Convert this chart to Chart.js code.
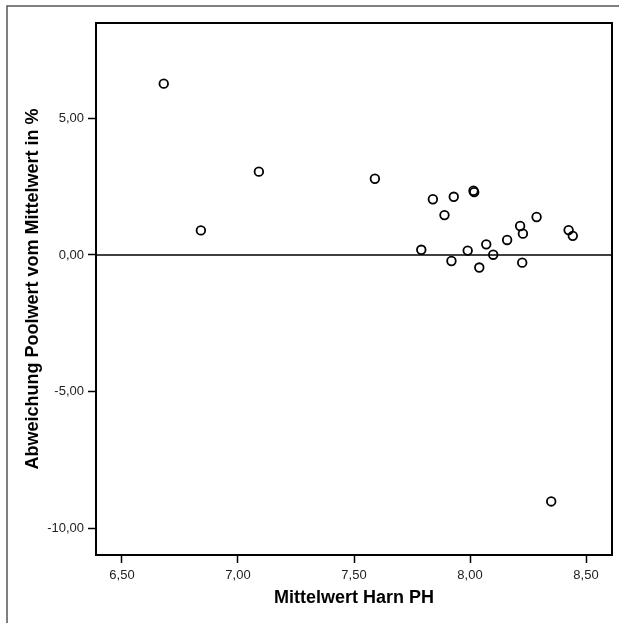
<!DOCTYPE html>
<html>
<head>
<meta charset="utf-8">
<script src="https://cdn.jsdelivr.net/npm/chart.js@4.4.1/dist/chart.umd.min.js"></script>
<style>
    html, body { margin: 0; padding: 0; background: #fff; }
    #chart { display: block; }
</style>
</head>
<body>
<canvas id="chart" width="619" height="623"></canvas>
<script>
// Mittelwert Harn PH (x) vs. Abweichung Poolwert vom Mittelwert in % (y)
const phMean = [6.68, 6.84, 7.09, 7.59, 7.79, 7.84, 7.89, 7.92, 7.93, 7.99, 8.015, 8.018,
    8.04, 8.07, 8.10, 8.16, 8.216, 8.225, 8.228, 8.287, 8.35, 8.425, 8.443];
const deviation = [6.27, 0.90, 3.05, 2.79, 0.19, 2.04, 1.46, -0.22, 2.13, 0.16, 2.35, 2.30,
    -0.46, 0.39, 0.01, 0.55, 1.06, -0.28, 0.78, 1.39, -9.02, 0.91, 0.70];
const xTicks = [6.5, 7.0, 7.5, 8.0, 8.5];
const yTicks = [-10, -5, 0, 5];

const fontFamily = "'Liberation Sans', Arial, sans-serif";
const fmt = v => v.toFixed(2).replace('.', ',');

// Frame around the picture, box around the plot and the zero line
const decorations = {
    id: 'decorations',
    beforeDraw(chart) {
        const ctx = chart.ctx;
        ctx.save();
        ctx.strokeStyle = '#555';
        ctx.lineWidth = 1.5;
        ctx.beginPath();
        ctx.moveTo(7, 623);
        ctx.lineTo(7, 6);
        ctx.lineTo(619, 6);
        ctx.stroke();
        ctx.restore();
    },
    afterDatasetsDraw(chart) {
        const ctx = chart.ctx;
        const a = chart.chartArea;
        const y0 = chart.scales.y.getPixelForValue(0);
        ctx.save();
        ctx.strokeStyle = '#000';
        ctx.lineWidth = 1.5;
        ctx.beginPath();
        ctx.moveTo(a.left, y0);
        ctx.lineTo(a.right, y0);
        ctx.stroke();
        ctx.lineWidth = 2;
        ctx.strokeRect(a.left, a.top, a.right - a.left, a.bottom - a.top);
        ctx.restore();
    }
};

const ctx = document.getElementById('chart').getContext('2d');
new Chart(ctx, {
    type: 'scatter',
    data: {
        datasets: [{
            data: phMean.map((x, i) => ({ x: x, y: deviation[i] })),
            pointStyle: 'circle',
            pointRadius: 4.3,
            pointBorderWidth: 1.8,
            borderColor: '#000',
            backgroundColor: 'rgba(0,0,0,0)',
            pointHoverRadius: 4.3
        }]
    },
    options: {
        responsive: false,
        animation: false,
        layout: { padding: { left: 0, top: 23, right: 7, bottom: 0 } },
        plugins: {
            legend: { display: false },
            tooltip: { enabled: false }
        },
        scales: {
            x: {
                type: 'linear',
                min: 6.388,
                max: 8.612,
                afterFit: scale => { scale.height = 68; },
                afterBuildTicks: scale => { scale.ticks = xTicks.map(v => ({ value: v })); },
                border: { display: true, color: '#000', width: 2 },
                grid: { drawOnChartArea: false, drawTicks: true, tickLength: 8, tickColor: '#000', tickWidth: 1.5 },
                ticks: {
                    padding: 5,
                    color: '#222',
                    font: { family: fontFamily, size: 13 },
                    callback: v => fmt(v)
                },
                title: {
                    display: true,
                    text: 'Mittelwert Harn PH',
                    color: '#000',
                    font: { family: fontFamily, size: 18, weight: 'bold' },
                    padding: { top: 0, bottom: 14 }
                }
            },
            y: {
                type: 'linear',
                min: -10.98,
                max: 8.49,
                afterFit: scale => { scale.width = 96; },
                afterBuildTicks: scale => { scale.ticks = yTicks.map(v => ({ value: v })); },
                border: { display: true, color: '#000', width: 2 },
                grid: { drawOnChartArea: false, drawTicks: true, tickLength: 8, tickColor: '#000', tickWidth: 1.5 },
                ticks: {
                    padding: 4,
                    color: '#222',
                    font: { family: fontFamily, size: 13 },
                    callback: v => fmt(v)
                },
                title: {
                    display: true,
                    text: 'Abweichung Poolwert vom Mittelwert in %',
                    color: '#000',
                    font: { family: fontFamily, size: 18, weight: 'bold' },
                    padding: { top: 22, bottom: 0 }
                }
            }
        }
    },
    plugins: [decorations]
});
</script>
</body>
</html>
